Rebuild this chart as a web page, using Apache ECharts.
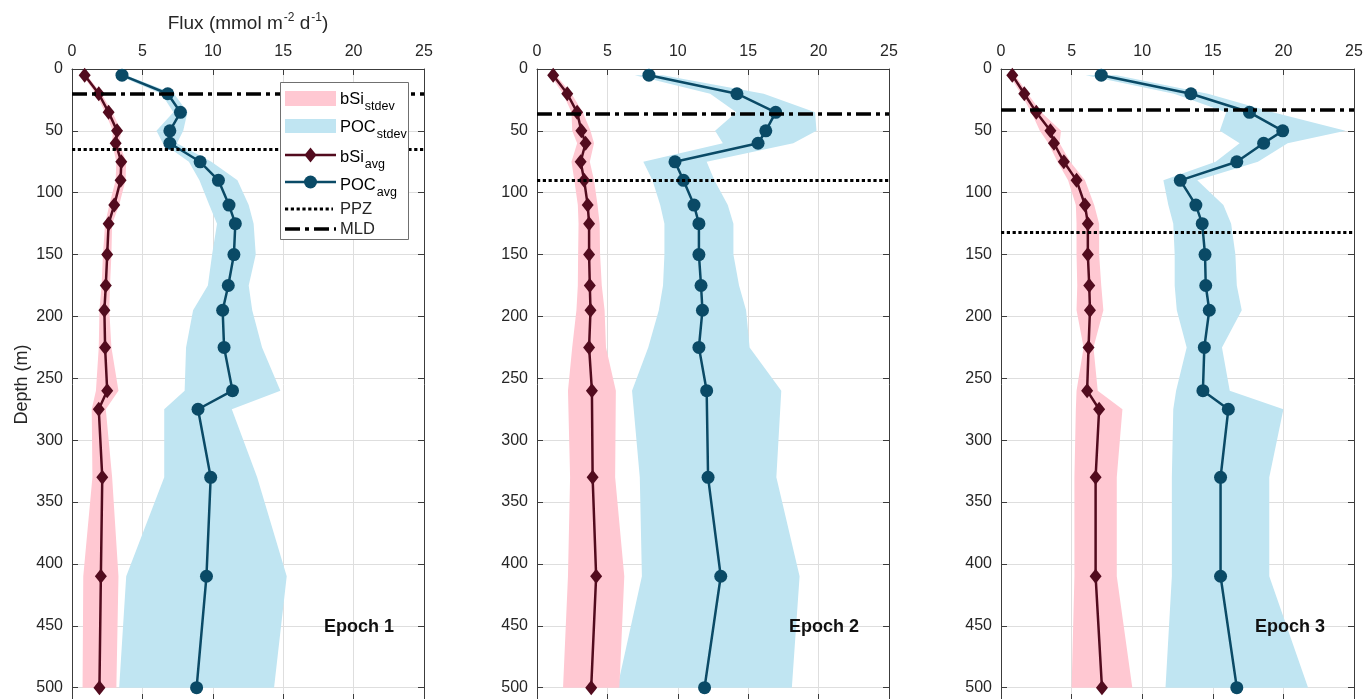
<!DOCTYPE html>
<html>
<head>
<meta charset="utf-8">
<script src="https://cdn.jsdelivr.net/npm/echarts@6/dist/echarts.min.js"></script>
<style>
  html, body { margin: 0; padding: 0; background: #ffffff; }
  #chart { width: 1370px; height: 699px; }
</style>
</head>
<body>
<div id="chart"></div>
<script>
// Sampling depths (m)
const depthEpoch1 = [5, 20, 35, 50, 60, 75, 90, 110, 125, 150, 175, 195, 225, 260, 275, 330, 410, 500];
const depthEpoch2 = [5, 20, 35, 50, 60, 75, 90, 110, 125, 150, 175, 195, 225, 260, 330, 410, 500];
const depthEpoch3 = [5, 20, 35, 50, 60, 75, 90, 110, 125, 150, 175, 195, 225, 260, 275, 330, 410, 500];

// Epoch 1 fluxes (mmol m-2 d-1)
const bSiAvg1 = [0.9, 1.9, 2.6, 3.2, 3.1, 3.5, 3.45, 3.0, 2.6, 2.5, 2.4, 2.3, 2.35, 2.5, 1.9, 2.15, 2.05, 1.95];
const bSiSd1  = [0.15, 0.2, 0.25, 0.3, 0.25, 0.35, 0.35, 0.35, 0.25, 0.3, 0.3, 0.35, 0.45, 0.8, 0.5, 0.7, 1.25, 1.2];
const pocAvg1 = [3.55, 6.8, 7.7, 6.95, 6.95, 9.1, 10.4, 11.15, 11.6, 11.5, 11.1, 10.7, 10.8, 11.4, 8.95, 9.85, 9.55, 8.85];
const pocSd1  = [0.3, 0.45, 0.5, 0.95, 0.5, 0.8, 1.35, 1.4, 1.3, 1.55, 1.45, 2.1, 2.7, 3.4, 2.4, 3.3, 5.7, 5.5];

// Epoch 2 fluxes
const bSiAvg2 = [1.15, 2.15, 2.85, 3.15, 3.45, 3.1, 3.35, 3.6, 3.7, 3.7, 3.75, 3.8, 3.7, 3.9, 3.95, 4.2, 3.85];
const bSiSd2  = [0.2, 0.3, 0.4, 0.65, 0.6, 0.65, 0.7, 0.7, 0.75, 0.78, 0.85, 1.0, 1.2, 1.7, 1.6, 2.0, 2.0];
const pocAvg2 = [7.95, 14.2, 16.95, 16.25, 15.7, 9.8, 10.4, 11.15, 11.5, 11.5, 11.65, 11.75, 11.5, 12.05, 12.15, 13.05, 11.9];
const pocSd2  = [1.0, 1.9, 2.8, 3.6, 2.5, 2.25, 2.2, 2.4, 2.45, 2.45, 2.7, 3.1, 3.6, 5.3, 4.85, 5.6, 6.2];

// Epoch 3 fluxes
const bSiAvg3 = [0.8, 1.65, 2.5, 3.5, 3.75, 4.45, 5.35, 5.95, 6.15, 6.15, 6.25, 6.3, 6.2, 6.1, 6.95, 6.7, 6.7, 7.15];
const bSiSd3  = [0.2, 0.25, 0.35, 0.75, 0.4, 0.45, 0.6, 0.65, 0.8, 0.8, 0.85, 0.95, 0.35, 0.75, 1.65, 1.5, 1.5, 2.15];
const pocAvg3 = [7.1, 13.45, 17.6, 19.95, 18.6, 16.7, 12.7, 13.8, 14.25, 14.45, 14.5, 14.75, 14.4, 14.3, 16.1, 15.55, 15.55, 16.7];
const pocSd3  = [1.1, 1.2, 1.65, 4.45, 1.7, 1.5, 1.2, 1.95, 2.05, 2.15, 2.2, 2.3, 1.25, 1.9, 3.9, 3.45, 3.45, 5.05];

// Mixed layer depth and productive zone depth per epoch (m)
const mldDepth = [20, 36, 33];
const ppzDepth = [65, 90, 132];

const epochLabels = ['Epoch 1', 'Epoch 2', 'Epoch 3'];
const fluxTicks = { min: 0, max: 25, interval: 5 };
const depthTicks = { min: 0, max: 510, interval: 50 };

const FONT = '"Liberation Sans", Arial, Helvetica, sans-serif';
const TEXT = '#262626';
const AXIS = '#3c3c3c';
const GRIDLINE = '#dedede';
const BSI_LINE = '#520b1e';
const POC_LINE = '#0a4a66';
const BSI_BAND = '#ffc8d2';
const POC_BAND = '#c0e5f2';

const panels = [
  { depth: depthEpoch1, bSi: bSiAvg1, bSiSd: bSiSd1, poc: pocAvg1, pocSd: pocSd1 },
  { depth: depthEpoch2, bSi: bSiAvg2, bSiSd: bSiSd2, poc: pocAvg2, pocSd: pocSd2 },
  { depth: depthEpoch3, bSi: bSiAvg3, bSiSd: bSiSd3, poc: pocAvg3, pocSd: pocSd3 }
];

const gridBoxes = [
  { left: 72, top: 69, width: 352, height: 631 },
  { left: 537, top: 69, width: 352, height: 631 },
  { left: 1001, top: 69, width: 353, height: 631 }
];

const grid = [], xAxis = [], yAxis = [], series = [];

gridBoxes.forEach(function (g, p) {
  grid.push({
    left: g.left, top: g.top, width: g.width, height: g.height,
    containLabel: false, outerBoundsMode: 'none'
  });

  const tick = { show: true, inside: true, length: 6, lineStyle: { color: AXIS, width: 1 } };
  const line = { show: true, onZero: false, lineStyle: { color: AXIS, width: 1 } };

  // flux axis: labelled on top, ticks only at bottom
  xAxis.push({
    type: 'value', gridIndex: p, position: 'top',
    min: fluxTicks.min, max: fluxTicks.max, interval: fluxTicks.interval,
    axisLine: line, axisTick: tick,
    axisLabel: { fontSize: 16, color: TEXT, fontFamily: FONT, margin: 9 },
    splitLine: { show: true, lineStyle: { color: GRIDLINE, width: 1 } },
    name: p === 0 ? '{n|Flux (mmol m}{p|-2}{n| d}{p|-1}{n|)}' : '',
    nameLocation: 'middle', nameGap: 33,
    nameTextStyle: {
      rich: {
        n: { fontSize: 19, fontFamily: FONT, color: TEXT },
        p: { fontSize: 12, fontFamily: FONT, color: TEXT, padding: [0, 0, 12, 1] }
      }
    }
  });
  xAxis.push({
    type: 'value', gridIndex: p, position: 'bottom',
    min: fluxTicks.min, max: fluxTicks.max, interval: fluxTicks.interval,
    axisLine: line, axisTick: tick, axisLabel: { show: false }, splitLine: { show: false }
  });

  // depth axis: labelled on the left, ticks only on the right
  yAxis.push({
    type: 'value', gridIndex: p, position: 'left', inverse: true,
    min: depthTicks.min, max: depthTicks.max, interval: depthTicks.interval,
    axisLine: line, axisTick: tick,
    axisLabel: { fontSize: 16, color: TEXT, fontFamily: FONT, margin: 9, showMaxLabel: false },
    splitLine: { show: true, lineStyle: { color: GRIDLINE, width: 1 } },
    name: p === 0 ? 'Depth (m)' : '',
    nameLocation: 'middle', nameGap: 41,
    nameTextStyle: { fontSize: 18, fontFamily: FONT, color: TEXT }
  });
  yAxis.push({
    type: 'value', gridIndex: p, position: 'right', inverse: true,
    min: depthTicks.min, max: depthTicks.max, interval: depthTicks.interval,
    axisLine: line, axisTick: tick, axisLabel: { show: false }, splitLine: { show: false }
  });
});

// Shaded ± standard deviation envelope, drawn as one polygon per profile
function bandSeries(p, depth, avg, sd, color) {
  return {
    type: 'custom', xAxisIndex: 2 * p, yAxisIndex: 2 * p, z: 1, silent: true,
    data: depth.map(function (d, k) { return [avg[k] - sd[k], d, avg[k] + sd[k]]; }),
    renderItem: function (params, api) {
      if (params.dataIndex !== 0) return null;
      const pts = [];
      for (let k = 0; k < depth.length; k++) pts.push(api.coord([avg[k] - sd[k], depth[k]]));
      for (let k = depth.length - 1; k >= 0; k--) pts.push(api.coord([avg[k] + sd[k], depth[k]]));
      return { type: 'polygon', shape: { points: pts }, style: { fill: color, stroke: null } };
    }
  };
}

function profileSeries(p, depth, avg, color, symbol, size) {
  return {
    type: 'line', xAxisIndex: 2 * p, yAxisIndex: 2 * p, z: 3, silent: true,
    data: depth.map(function (d, k) { return [avg[k], d]; }),
    symbol: symbol, symbolSize: size, showSymbol: true, showAllSymbol: true,
    lineStyle: { color: color, width: 2.5 },
    itemStyle: { color: color, borderWidth: 0 },
    emphasis: { disabled: true }
  };
}

panels.forEach(function (d, p) {
  series.push(bandSeries(p, d.depth, d.poc, d.pocSd, POC_BAND));
  series.push(bandSeries(p, d.depth, d.bSi, d.bSiSd, BSI_BAND));
  series.push({
    type: 'line', xAxisIndex: 2 * p, yAxisIndex: 2 * p, z: 2, silent: true, data: [],
    markLine: {
      silent: true, symbol: 'none', animation: false, label: { show: false },
      emphasis: { disabled: true },
      data: [
        { yAxis: mldDepth[p], lineStyle: { color: '#000', width: 3.5, type: [15, 5, 4, 5] } },
        { yAxis: ppzDepth[p], lineStyle: { color: '#000', width: 3.2, type: [3.2, 2.6] } }
      ]
    }
  });
  series.push(profileSeries(p, d.depth, d.bSi, BSI_LINE, 'diamond', [12, 15]));
  series.push(profileSeries(p, d.depth, d.poc, POC_LINE, 'circle', 13));
});

// Legend box inside the first panel
const legendText = {
  m: { fontSize: 16.5, fontFamily: FONT, color: TEXT },
  s: { fontSize: 12.5, fontFamily: FONT, color: TEXT, padding: [16, 0, 0, 1] }
};
const legendItems = [
  { type: 'rect', shape: { x: 280.5, y: 82.5, width: 128, height: 157 }, style: { fill: '#fff', stroke: '#707070', lineWidth: 1 } },
  { type: 'rect', shape: { x: 285, y: 91, width: 51, height: 15 }, style: { fill: BSI_BAND } },
  { type: 'rect', shape: { x: 285, y: 119, width: 51, height: 14 }, style: { fill: POC_BAND } },
  { type: 'line', shape: { x1: 285, y1: 155, x2: 336, y2: 155 }, style: { stroke: BSI_LINE, lineWidth: 2.5 } },
  { type: 'polygon', shape: { points: [[310.5, 147.5], [316.5, 155], [310.5, 162.5], [304.5, 155]] }, style: { fill: BSI_LINE } },
  { type: 'line', shape: { x1: 285, y1: 182, x2: 336, y2: 182 }, style: { stroke: POC_LINE, lineWidth: 2.5 } },
  { type: 'circle', shape: { cx: 310.5, cy: 182, r: 6.5 }, style: { fill: POC_LINE } },
  { type: 'line', shape: { x1: 285, y1: 209, x2: 333, y2: 209 }, style: { stroke: '#000', lineWidth: 3.2, lineDash: [3.2, 2.6] } },
  { type: 'line', shape: { x1: 285, y1: 229, x2: 336, y2: 229 }, style: { stroke: '#000', lineWidth: 3.5, lineDash: [15, 5, 4, 5] } },
  { type: 'text', x: 340, y: 99, style: { text: '{m|bSi}{s|stdev}', rich: legendText, verticalAlign: 'middle' } },
  { type: 'text', x: 340, y: 127, style: { text: '{m|POC}{s|stdev}', rich: legendText, verticalAlign: 'middle' } },
  { type: 'text', x: 340, y: 157, style: { text: '{m|bSi}{s|avg}', rich: legendText, verticalAlign: 'middle' } },
  { type: 'text', x: 340, y: 185, style: { text: '{m|POC}{s|avg}', rich: legendText, verticalAlign: 'middle' } },
  { type: 'text', x: 340, y: 209, style: { text: 'PPZ', font: '16.5px ' + FONT, fill: TEXT, verticalAlign: 'middle' } },
  { type: 'text', x: 340, y: 229, style: { text: 'MLD', font: '16.5px ' + FONT, fill: TEXT, verticalAlign: 'middle' } }
].map(function (el, i) { el.z = 100 + i; return el; });

const epochPos = [[359, 627], [824, 627], [1290, 627]];
const epochTexts = epochLabels.map(function (t, i) {
  return {
    type: 'text', x: epochPos[i][0], y: epochPos[i][1], z: 100,
    style: { text: t, font: 'bold 18px ' + FONT, fill: '#111', align: 'center', verticalAlign: 'middle' }
  };
});

const chart = echarts.init(document.getElementById('chart'), null, { renderer: 'canvas' });
chart.setOption({
  animation: false,
  backgroundColor: '#ffffff',
  grid: grid,
  xAxis: xAxis,
  yAxis: yAxis,
  series: series,
  graphic: legendItems.concat(epochTexts)
});
</script>
</body>
</html>
